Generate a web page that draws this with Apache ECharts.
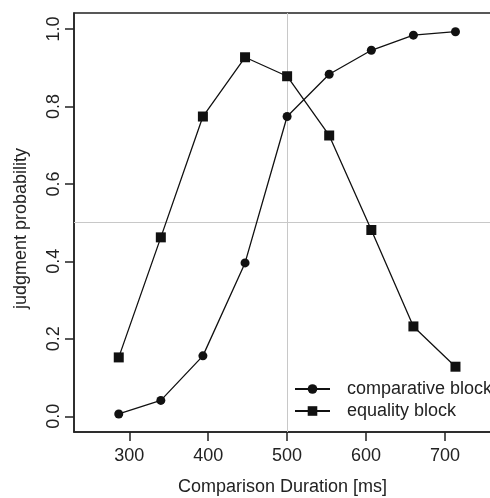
<!DOCTYPE html>
<html>
<head>
<meta charset="utf-8">
<script src="https://cdn.jsdelivr.net/npm/echarts@6/dist/echarts.min.js"></script>
<style>
  html, body { margin: 0; padding: 0; background: #fff; }
  #chart { width: 490px; height: 498px; }
</style>
</head>
<body>
<div id="chart"></div>
<script>
  // comparison durations (ms)
  var durations = [286.7, 340, 393.3, 446.7, 500, 553.3, 606.7, 660, 713.3];
  // judgment probability per block
  var comparative = [0.006, 0.041, 0.156, 0.396, 0.774, 0.883, 0.945, 0.984, 0.993];
  var equality = [0.152, 0.462, 0.774, 0.927, 0.878, 0.725, 0.481, 0.232, 0.128];
  var xTicks = [300, 400, 500, 600, 700];
  var yTicks = [0, 0.2, 0.4, 0.6, 0.8, 1.0];

  var font = 'Liberation Sans, Arial, sans-serif';
  var chart = echarts.init(document.getElementById('chart'));

  function pairs(ys) {
    return durations.map(function (x, i) { return [x, ys[i]]; });
  }

  chart.setOption({
    animation: false,
    grid: {
      left: 74, top: 13, right: -1, bottom: 66,
      outerBoundsMode: 'none',
      show: true, borderColor: '#222', borderWidth: 1.5
    },
    legend: {
      orient: 'vertical',
      left: 289, top: 375,
      itemWidth: 35, itemHeight: 12, itemGap: 4,
      data: ['comparative block', 'equality block'],
      textStyle: { fontFamily: font, fontSize: 18, color: '#222', padding: [0, 0, 0, 12] }
    },
    xAxis: {
      type: 'value',
      min: 230, max: 758.3,
      name: 'Comparison Duration [ms]',
      nameLocation: 'middle',
      nameGap: 46,
      nameTextStyle: { fontFamily: font, fontSize: 18, color: '#222' },
      splitLine: { show: false },
      axisLine: { show: true, onZero: false, lineStyle: { color: '#222', width: 1.5 } },
      axisTick: { show: true, length: 9, customValues: xTicks, lineStyle: { color: '#222', width: 1.5 } },
      axisLabel: { customValues: xTicks, margin: 15, fontFamily: font, fontSize: 18, color: '#222' }
    },
    yAxis: {
      type: 'value',
      min: -0.0406, max: 1.0413,
      name: 'judgment probability',
      nameLocation: 'middle',
      nameGap: 44,
      nameTextStyle: { fontFamily: font, fontSize: 18, color: '#222', padding: [0, 12, 0, 0] },
      splitLine: { show: false },
      axisLine: { show: true, onZero: false, lineStyle: { color: '#222', width: 1.5 } },
      axisTick: { show: true, length: 9, customValues: yTicks, lineStyle: { color: '#222', width: 1.5 } },
      axisLabel: {
        customValues: yTicks, rotate: 90, margin: 11,
        fontFamily: font, fontSize: 18, color: '#222',
        formatter: function (v) { return v.toFixed(1); }
      }
    },
    series: [
      {
        name: 'comparative block',
        type: 'line',
        data: pairs(comparative),
        symbol: 'circle', symbolSize: 9,
        itemStyle: { color: '#111' },
        lineStyle: { color: '#111', width: 1.3 },
        z: 3,
        markLine: {
          silent: true, symbol: 'none', label: { show: false },
          lineStyle: { color: '#c8c8c8', width: 1, type: 'solid' },
          data: [{ xAxis: 500 }, { yAxis: 0.5 }],
          z: 1
        }
      },
      {
        name: 'equality block',
        type: 'line',
        data: pairs(equality),
        symbol: 'rect', symbolSize: 10,
        itemStyle: { color: '#111' },
        lineStyle: { color: '#111', width: 1.3 },
        z: 3
      }
    ]
  });
</script>
</body>
</html>
